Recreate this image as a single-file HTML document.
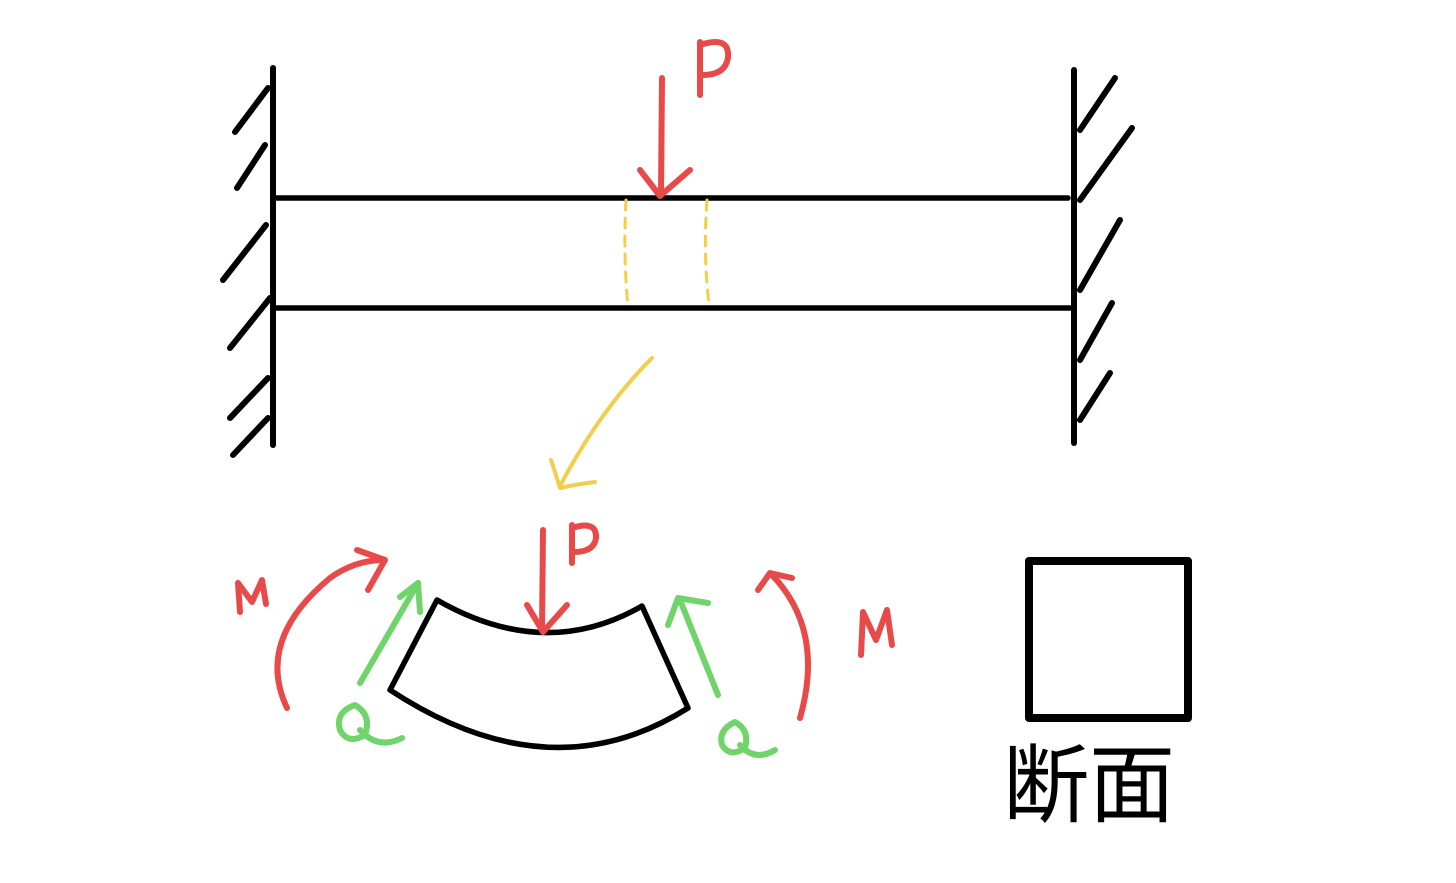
<!DOCTYPE html>
<html><head><meta charset="utf-8"><style>
html,body{margin:0;padding:0;background:#fff;}
svg{display:block;}
</style></head><body>
<svg width="1456" height="883" viewBox="0 0 1456 883" xmlns="http://www.w3.org/2000/svg" fill="none" stroke-linecap="round" stroke-linejoin="round">
<rect width="1456" height="883" fill="#fff"/>
<g stroke="#000" stroke-width="6">
<path d="M273 68 L273 445"/>
<path d="M268 88 L235 132"/>
<path d="M265 145 L237 188"/>
<path d="M266 225 L223 280"/>
<path d="M270 298 L230 348"/>
<path d="M268 378 L230 418"/>
<path d="M268 418 L233 455"/>
<path d="M1074 70 L1074 443"/>
<path d="M1080 130 L1115 78"/>
<path d="M1080 200 L1132 128"/>
<path d="M1080 290 L1120 220"/>
<path d="M1080 360 L1112 303"/>
<path d="M1080 420 L1110 373"/>
</g>
<g stroke="#000" stroke-width="5.5">
<path d="M275 198 L1068 198"/>
<path d="M275 308 L1070 308"/>
</g>
<g stroke="#f2cf4a" stroke-width="3" stroke-dasharray="10 8">
<path d="M626 200 Q623 255 628 307"/>
<path d="M707 200 Q703 255 709 304"/>
</g>
<g stroke="#f2cf4a" stroke-width="4">
<path d="M652 358 Q600 410 560 486"/>
<path d="M551 460 Q556 475 560 488 Q578 484 595 482"/>
</g>
<g stroke="#e84a4a" stroke-width="6">
<path d="M662 78 L661 195"/>
<path d="M640 170 L660 196 L690 170"/>
<path d="M700 42 L700 95"/>
<path d="M700 45 Q730 35 728 58 Q725 75 703 75"/>
</g>
<g stroke="#000" stroke-width="5.5">
<path d="M437 600 Q545 662 642 606 L688 708 Q550 795 390 690 Z"/>
</g>
<g stroke="#e84a4a" stroke-width="6">
<path d="M543 530 L542 630"/>
<path d="M527 605 L543 632 L567 605"/>
<path d="M572 525 L572 563"/>
<path d="M572 528 Q597 520 596 538 Q594 552 574 552"/>
<path d="M287 708 Q255 640 330 578 Q355 560 384 560"/>
<path d="M357 550 L385 560 L368 590"/>
<path d="M240 612 L238 583 L252 602 L262 580 L266 604"/>
<path d="M800 718 Q825 630 772 575"/>
<path d="M758 590 L770 573 L792 578"/>
<path d="M861 655 L863 612 L876 640 L887 610 L892 645"/>
</g>
<g stroke="#6fd46a" stroke-width="6">
<path d="M360 683 L418 583"/>
<path d="M400 597 L418 583 L420 612"/>
<path d="M718 695 L680 600"/>
<path d="M668 625 L678 598 L708 603"/>
<path d="M355 705 Q335 712 340 730 Q348 745 365 735 Q372 715 355 705 Z"/>
<path d="M360 730 Q378 750 402 738"/>
<path d="M735 722 Q718 730 722 745 Q730 758 745 748 Q750 730 735 722 Z"/>
<path d="M740 745 Q755 762 775 750"/>
</g>
<rect x="1029" y="561" width="159" height="157" stroke="#000" stroke-width="8"/>
<text x="1003" y="815" font-family="'Liberation Sans','Noto Sans CJK JP',sans-serif" font-size="86" fill="#000">断面</text>
</svg>
</body></html>
